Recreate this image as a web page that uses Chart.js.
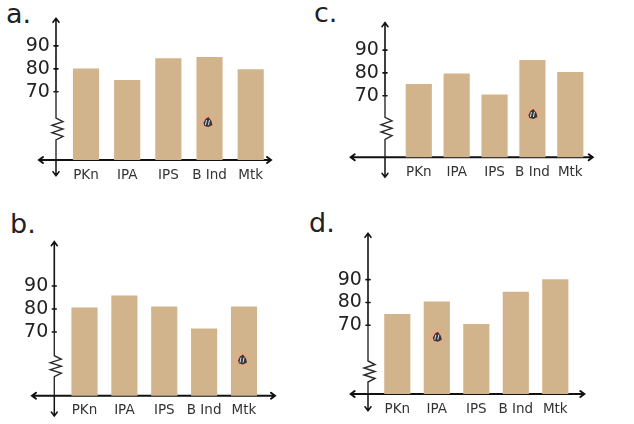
<!DOCTYPE html>
<html>
<head>
<meta charset="utf-8">
<script src="https://cdn.jsdelivr.net/npm/chart.js@4"></script>
<style>
  body { margin: 0; background: #fff; width: 634px; height: 424px; overflow: hidden; position: relative; }
  canvas { position: absolute; left: 0; top: 0; }
  .tag { position: absolute; font: 27px "DejaVu Sans", sans-serif; color: #222; line-height: 30px; }
</style>
</head>
<body>
<span class="tag" style="left:6px;top:-1px">a.</span>
<span class="tag" style="left:314px;top:-2px">c.</span>
<span class="tag" style="left:10px;top:209px">b.</span>
<span class="tag" style="left:309px;top:208px">d.</span>
<canvas id="chartA" width="634" height="424"></canvas>
<canvas id="chartB" width="634" height="424"></canvas>
<canvas id="chartC" width="634" height="424"></canvas>
<canvas id="chartD" width="634" height="424"></canvas>
<script>
const subjects = ["PKn", "IPA", "IPS", "B Ind", "Mtk"];
const yTicks = [70, 80, 90];

const valuesA = [80, 75, 84.5, 85, 79.7];
const valuesB = [80.5, 85.8, 81, 71.4, 81];
const valuesC = [75, 79.6, 70.4, 85.5, 80.2];
const valuesD = [74.8, 80.3, 70.4, 84.6, 90];

// where the little sticker sits: [bar index, value]
const stickerA = [2.95, 56.8];
const stickerB = [3.95, 58];
const stickerC = [3.0, 62];
const stickerD = [1.0, 65];

const TAN = "#d2b48c";

// axes with the arrows and the break squiggle, drawn under the bars
const axisArt = {
  id: "axisArt",
  beforeDatasetsDraw(chart, args, o) {
    const c = chart.ctx;
    const yScale = chart.scales.y;
    const base = yScale.bottom;
    const ax = chart.scales.x.getPixelForValue(o.axisAt);
    const y70 = yScale.getPixelForValue(70);
    c.save();
    c.strokeStyle = "#111";
    c.lineCap = "round";

    c.lineWidth = 2;
    c.beginPath();
    c.moveTo(o.xFrom, base); c.lineTo(o.xTo, base);
    c.moveTo(o.xFrom + 4, base - 3); c.lineTo(o.xFrom, base); c.lineTo(o.xFrom + 4, base + 3);
    c.moveTo(o.xTo - 4, base - 3); c.lineTo(o.xTo, base); c.lineTo(o.xTo - 4, base + 3);
    c.stroke();

    c.lineWidth = 1.6;
    c.beginPath();
    c.moveTo(ax, yScale.top); c.lineTo(ax, y70);
    c.moveTo(ax - 3, yScale.top + 4); c.lineTo(ax, yScale.top); c.lineTo(ax + 3, yScale.top + 4);
    yTicks.forEach(v => {
      const t = yScale.getPixelForValue(v);
      c.moveTo(ax - 2, t); c.lineTo(ax + 2, t);
    });
    c.stroke();

    // broken part of the axis, from the 70 tick down to the x axis
    c.lineWidth = 1.4;
    c.strokeStyle = "#2a2a2a";
    const upper = base - o.breakTop, lower = base - o.breakBottom, h = (lower - upper) / 6;
    c.beginPath();
    c.moveTo(ax, y70); c.lineTo(ax, upper);
    c.lineTo(ax + 7, upper + h);
    c.lineTo(ax - 4, upper + 2 * h);
    c.lineTo(ax + 7, upper + 3 * h);
    c.lineTo(ax - 4, upper + 4 * h);
    c.lineTo(ax + 7, upper + 5 * h);
    c.lineTo(ax, lower);
    c.lineTo(ax, base);
    c.stroke();

    c.strokeStyle = "#111";
    c.lineWidth = 1.5;
    c.beginPath();
    c.moveTo(ax, base); c.lineTo(ax, o.yEnd);
    c.moveTo(ax - 3, o.yEnd - 4); c.lineTo(ax, o.yEnd); c.lineTo(ax + 3, o.yEnd - 4);
    c.stroke();
    c.restore();
  },
  afterDatasetsDraw(chart, args, o) {
    const c = chart.ctx;
    const x = chart.scales.x.getPixelForValue(o.sticker[0]);
    const y = chart.scales.y.getPixelForValue(o.sticker[1]);
    c.save();
    c.fillStyle = "rgba(232,170,130,0.8)";
    c.beginPath(); c.arc(x, y, 7, 0, Math.PI * 2); c.fill();
    c.fillStyle = "#33373d";
    c.beginPath();
    c.moveTo(x - 4, y + 1); c.lineTo(x - 2, y - 3); c.lineTo(x + 1, y - 5); c.lineTo(x + 4, y - 1);
    c.lineTo(x + 5, y + 3); c.lineTo(x + 1, y + 5); c.lineTo(x - 3, y + 4);
    c.closePath(); c.fill();
    c.strokeStyle = "#dfe3e6";
    c.lineWidth = 1;
    c.beginPath();
    c.moveTo(x - 2, y + 3); c.lineTo(x - 1, y - 2);
    c.moveTo(x + 1, y + 3); c.lineTo(x + 2, y - 2);
    c.stroke();
    c.restore();
  }
};

function drawPanel(id, values, sticker, g) {
  const spacing = (g.lastBar - g.firstBar) / 4;
  new Chart(document.getElementById(id), {
    type: "bar",
    data: {
      labels: subjects,
      datasets: [{ data: values, backgroundColor: TAN, barThickness: 25.5 }]
    },
    plugins: [axisArt],
    options: {
      responsive: false,
      animation: false,
      events: [],
      layout: {
        padding: {
          left: g.firstBar - spacing / 2,
          right: 634 - (g.lastBar + spacing / 2),
          top: g.top,
          bottom: 424 - g.base - 24
        }
      },
      plugins: {
        legend: { display: false },
        tooltip: { enabled: false },
        axisArt: {
          axisAt: (g.axisX - g.firstBar) / spacing,
          xFrom: g.xFrom, xTo: g.xTo, yEnd: g.yEnd,
          breakTop: g.breakTop, breakBottom: g.breakBottom,
          sticker: sticker
        }
      },
      scales: {
        x: {
          afterFit(s) { s.height = 24; },
          grid: { display: false, drawTicks: false },
          border: { display: false },
          ticks: { color: "#333", font: { family: "DejaVu Sans", size: 13.5 }, padding: 7, maxRotation: 0, autoSkip: false }
        },
        y: {
          axis: "y",
          position: { x: (g.axisX - g.firstBar) / spacing },
          min: g.yMin,
          max: g.yMax,
          afterBuildTicks(s) { s.ticks = yTicks.map(v => ({ value: v })); },
          grid: { display: false, drawTicks: false },
          border: { display: false },
          ticks: {
            color: "#222",
            font: { family: "DejaVu Sans", size: 19 },
            padding: 0,
            callback: v => v + "\u00a0"
          }
        }
      }
    }
  });
}

drawPanel("chartA", valuesA, stickerA, { firstBar: 86, lastBar: 250.7, axisX: 56, xFrom: 39, xTo: 271, top: 18.3, base: 160, yEnd: 175.7, yMin: 40.3, yMax: 102, breakTop: 42, breakBottom: 20 });
drawPanel("chartB", valuesB, stickerB, { firstBar: 84.5, lastBar: 244, axisX: 54.3, xFrom: 32, xTo: 275, top: 241.7, base: 395.7, yEnd: 416, yMin: 42.3, yMax: 109.3, breakTop: 40, breakBottom: 19 });
drawPanel("chartC", valuesC, stickerC, { firstBar: 418.8, lastBar: 570.3, axisX: 385, xFrom: 350.7, xTo: 592.7, top: 22.7, base: 157.3, yEnd: 177.3, yMin: 43, yMax: 102, breakTop: 40, breakBottom: 18 });
drawPanel("chartD", valuesD, stickerD, { firstBar: 397.3, lastBar: 555.3, axisX: 368, xFrom: 350.7, xTo: 584.3, top: 233.3, base: 394, yEnd: 410.7, yMin: 39.9, yMax: 110.3, breakTop: 33, breakBottom: 12 });
</script>
</body>
</html>
